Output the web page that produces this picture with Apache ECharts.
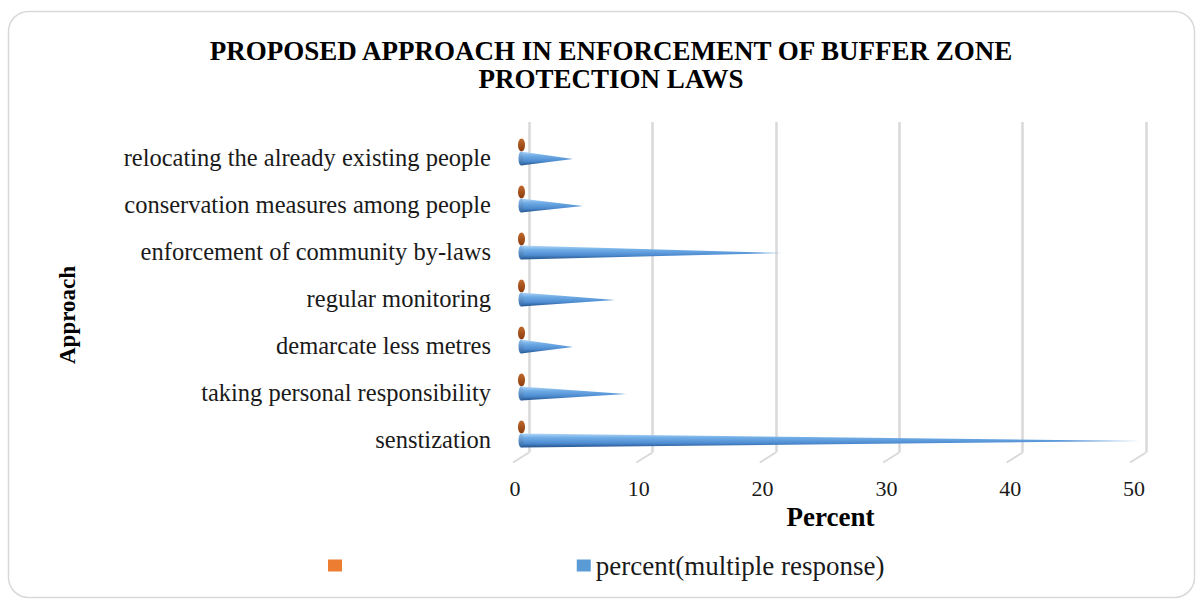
<!DOCTYPE html>
<html>
<head>
<meta charset="utf-8">
<script src="https://cdn.jsdelivr.net/npm/echarts@6/dist/echarts.min.js"></script>
<style>
  html, body { margin: 0; padding: 0; background: #ffffff; }
  #chart { width: 1197px; height: 599px; }
</style>
</head>
<body>
<div id="chart"></div>
<script>
// Approaches, listed top to bottom as they appear on the chart
const categories = [
  'relocating the already existing people',
  'conservation measures among people',
  'enforcement of community by-laws',
  'regular monitoring',
  'demarcate less metres',
  'taking personal responsibility',
  'senstization'
];
// percent(multiple response)
const percentValues = [4.2, 5.0, 21.1, 7.6, 4.2, 8.5, 50.0];
// unnamed companion series (all zero, only its base caps show)
const blankValues = [0, 0, 0, 0, 0, 0, 0];
const xTicks = [0, 10, 20, 30, 40, 50];
const seriesNames = [' ', 'percent(multiple response)'];

const FONT = "'Liberation Serif', 'Times New Roman', serif";
const TEXT = '#1a1a1a';

const toPairs = vals => vals.map((v, i) => [v, i]);

// Horizontal 3D-looking cone: base ellipse at 0, tip at the value
function coneRenderer(offsetY, halfH, bodyFill, capFill, capRx, capDx) {
  return function (params, api) {
    const v = api.value(0);
    const c = api.value(1);
    const base = api.coord([0, c]);
    const tip = api.coord([v, c]);
    const x0 = base[0];
    const cy = base[1] + offsetY;
    const children = [];
    if (tip[0] - x0 > 1) {
      children.push({
        type: 'polygon',
        shape: { points: [[x0, cy - halfH], [tip[0], cy + 0.5], [x0, cy + halfH]] },
        style: { fill: bodyFill }
      });
    }
    children.push({
      type: 'ellipse',
      shape: { cx: x0 + capDx, cy: cy, rx: capRx, ry: halfH },
      style: { fill: capFill }
    });
    return { type: 'group', children: children };
  };
}

const blueBody = {
  type: 'linear', x: 0, y: 0, x2: 0, y2: 1,
  colorStops: [
    { offset: 0, color: '#b4d6f6' },
    { offset: 0.3, color: '#70ade6' },
    { offset: 0.7, color: '#4d8bd0' },
    { offset: 1, color: '#24528a' }
  ]
};
const blueCap = {
  type: 'linear', x: 0, y: 0, x2: 0, y2: 1,
  colorStops: [
    { offset: 0, color: '#8fc0ee' },
    { offset: 1, color: '#2f64a3' }
  ]
};
const orangeCap = {
  type: 'linear', x: 0, y: 0, x2: 0, y2: 1,
  colorStops: [
    { offset: 0, color: '#c0692b' },
    { offset: 1, color: '#8a3c0e' }
  ]
};

const chart = echarts.init(document.getElementById('chart'), null, { renderer: 'svg' });

chart.setOption({
  backgroundColor: '#ffffff',
  animation: false,
  title: {
    text: 'PROPOSED APPROACH IN ENFORCEMENT OF BUFFER ZONE\nPROTECTION LAWS',
    left: 606,
    top: 32,
    textAlign: 'center',
    textStyle: {
      fontFamily: FONT,
      fontWeight: 'bold',
      fontSize: 27,
      lineHeight: 28,
      color: '#000000'
    }
  },
  legend: {
    data: seriesNames,
    left: 323,
    top: 547,
    icon: 'rect',
    itemWidth: 14,
    itemHeight: 12,
    itemGap: 223,
    textStyle: { fontFamily: FONT, fontSize: 27, color: TEXT }
  },
  grid: [
    { left: 521, right: 57, top: 134, bottom: 136, outerBoundsMode: 'none' },
    { left: 529, right: 51, top: 122, height: 330.5, outerBoundsMode: 'none' }
  ],
  xAxis: [
    {
      gridIndex: 0,
      type: 'value',
      min: 0,
      max: 50,
      interval: 10,
      axisLine: { show: false },
      axisTick: { show: false },
      splitLine: { show: false },
      axisLabel: {
        margin: 14,
        fontFamily: FONT,
        fontSize: 22,
        color: TEXT,
        padding: [0, 12, 0, 0]
      },
      name: 'Percent',
      nameLocation: 'middle',
      nameGap: 40,
      nameTextStyle: { fontFamily: FONT, fontWeight: 'bold', fontSize: 27, color: '#000000' }
    },
    {
      gridIndex: 1,
      type: 'value',
      min: 0,
      max: 50,
      interval: 10,
      axisLine: { show: false },
      axisTick: { show: false },
      axisLabel: { show: false },
      splitLine: { show: true, lineStyle: { color: '#d9d9d9', width: 2.5 } }
    }
  ],
  yAxis: [
    {
      gridIndex: 0,
      type: 'category',
      data: categories,
      inverse: true,
      axisLine: { show: false },
      axisTick: { show: false },
      splitLine: { show: false },
      axisLabel: { margin: 30, fontFamily: FONT, fontSize: 24.5, color: TEXT }
    },
    {
      gridIndex: 1,
      type: 'value',
      min: 0,
      max: 1,
      show: false
    }
  ],
  graphic: [
    {
      type: 'rect',
      shape: { x: 8.5, y: 11.5, width: 1186, height: 586, r: 20 },
      style: { fill: 'none', stroke: '#d9d9d9', lineWidth: 1.5 },
      z: 0
    },
    {
      type: 'text',
      x: 67,
      y: 315,
      rotation: Math.PI / 2,
      style: {
        text: 'Approach',
        font: "bold 23px 'Liberation Serif', 'Times New Roman', serif",
        fill: '#000000',
        align: 'center',
        verticalAlign: 'middle'
      }
    }
  ],
  series: [
    {
      // floor edges under the back-wall gridlines
      type: 'custom',
      xAxisIndex: 1,
      yAxisIndex: 1,
      silent: true,
      data: xTicks.map(v => [v, 0]),
      renderItem: function (params, api) {
        const p = api.coord([api.value(0), 0]);
        return {
          type: 'line',
          shape: { x1: p[0], y1: p[1], x2: p[0] - 16, y2: p[1] + 10 },
          style: { stroke: '#d9d9d9', lineWidth: 2 }
        };
      },
      z: 1
    },
    {
      name: seriesNames[0],
      type: 'custom',
      xAxisIndex: 0,
      yAxisIndex: 0,
      itemStyle: { color: '#ed7d31' },
      data: toPairs(blankValues),
      encode: { x: 0, y: 1 },
      renderItem: coneRenderer(-12.5, 6.5, orangeCap, orangeCap, 3.5, 0.5),
      z: 3
    },
    {
      name: seriesNames[1],
      type: 'custom',
      xAxisIndex: 0,
      yAxisIndex: 0,
      itemStyle: { color: '#5b9bd5' },
      data: toPairs(percentValues),
      encode: { x: 0, y: 1 },
      renderItem: coneRenderer(1, 7, blueBody, blueCap, 2.5, 0),
      z: 3
    }
  ]
});
</script>
</body>
</html>
